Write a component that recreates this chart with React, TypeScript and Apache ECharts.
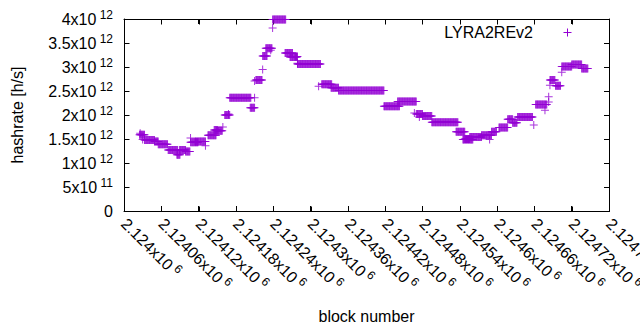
import React, { useEffect, useRef } from 'react';
import * as echarts from 'echarts';

// Block-number offsets from 2124000 where each constant hashrate run starts / ends
const BASE_BLOCK = 2124000;
const runStart = [26, 25, 30, 33, 49, 55, 71, 85, 89, 99, 107, 107, 114, 131, 135, 145, 149, 159, 162, 168,
  170, 210, 203, 212, 210, 223, 223, 228, 236, 239, 239, 259, 267, 279, 275, 279, 313, 318, 333, 345,
  418, 440, 467, 470, 475, 480, 495, 534, 548, 545, 556, 575, 588, 591, 603, 617, 625, 633, 659, 662,
  677, 683, 683, 685, 685, 694, 704, 704, 720, 736];
const runEnd = [26, 33, 30, 49, 55, 70, 86, 90, 99, 106, 107, 119, 131, 131, 148, 151, 158, 159, 170, 168,
  204, 210, 210, 222, 210, 223, 230, 238, 236, 239, 260, 271, 278, 279, 279, 316, 313, 334, 345, 418,
  443, 470, 467, 480, 475, 495, 537, 548, 556, 561, 575, 591, 588, 599, 617, 625, 632, 657, 659, 680,
  677, 683, 683, 693, 685, 702, 704, 720, 736, 746];
// hashrate of each run, in units of 1e12 h/s
const runValue = [1.62, 1.59, 1.49, 1.48, 1.45, 1.39, 1.27, 1.17, 1.27, 1.24, 1.52, 1.43, 1.45, 1.36, 1.58, 1.69, 1.67, 1.75, 2.0, 2.02,
  2.36, 2.36, 2.15, 2.73, 2.71, 2.95, 3.23, 3.39, 3.35, 3.81, 3.99, 3.29, 3.21, 3.08, 3.22, 3.06, 2.6, 2.64, 2.57, 2.51,
  2.18, 2.28, 2.04, 2.02, 1.96, 1.98, 1.85, 1.65, 1.5, 1.49, 1.54, 1.58, 1.49, 1.65, 1.74, 1.91, 1.84, 1.96, 1.79, 2.22,
  2.1, 2.38, 2.27, 2.73, 2.62, 2.61, 2.89, 3.01, 3.05, 2.97];

const X_MIN = 2124000;
const X_MAX = 2124780;
const X_STEP = 60;
const Y_MAX = 4e12;
const Y_STEP = 5e11;
const xTickMantissas = ['2.124', '2.12406', '2.12412', '2.12418', '2.12424', '2.1243', '2.12436', '2.12442',
  '2.12448', '2.12454', '2.1246', '2.12466', '2.12472', '2.12478'];
const yTickMantissas = ['0', '5', '1', '1.5', '2', '2.5', '3', '3.5', '4'];
const yTickExponents = ['', '11', '12', '12', '12', '12', '12', '12', '12'];

const FONT = 'Liberation Sans, Arial, sans-serif';
const PURPLE = '#9400D3';
const PLUS = 'path://M3.5 0H4.5V3.5H8V4.5H4.5V8H3.5V4.5H0V3.5H3.5Z';
const TICK = 5;

function buildData(): number[][] {
  const out: number[][] = [];
  for (let i = 0; i < runStart.length; i++) {
    for (let b = runStart[i]; b <= runEnd[i]; b++) {
      out.push([BASE_BLOCK + b, runValue[i] * 1e12]);
    }
  }
  return out;
}

const rich = {
  m: { fontSize: 16, lineHeight: 21, fontFamily: FONT, color: '#000' },
  s: { fontSize: 12, lineHeight: 12, verticalAlign: 'top', fontFamily: FONT, color: '#000' },
};

function axisLine() {
  return { show: true, onZero: false, lineStyle: { color: '#000', width: 1 } };
}
function axisTick() {
  return { show: true, inside: true, length: TICK, lineStyle: { color: '#000', width: 1 } };
}

export default function App() {
  const ref = useRef<HTMLDivElement>(null);
  useEffect(() => {
    document.body.style.margin = '0';
    const chart = echarts.init(ref.current as HTMLDivElement, null, { renderer: 'svg' });
    const xCommon = { type: 'value', min: X_MIN, max: X_MAX, interval: X_STEP, splitLine: { show: false } };
    const yCommon = { type: 'value', min: 0, max: Y_MAX, interval: Y_STEP, splitLine: { show: false } };
    const legendGraphics: any[] = [
      {
        type: 'text', x: 533, y: 32.5,
        style: {
          text: 'LYRA2REv2', fontFamily: FONT, fontSize: 16, fill: '#000',
          align: 'right', verticalAlign: 'middle', textAlign: 'right', textVerticalAlign: 'middle',
        },
      },
      {
        type: 'group', x: 567.5, y: 32.5,
        children: [
          { type: 'line', shape: { x1: -4, y1: 0, x2: 4, y2: 0 }, style: { stroke: PURPLE, lineWidth: 1 } },
          { type: 'line', shape: { x1: 0, y1: -4, x2: 0, y2: 4 }, style: { stroke: PURPLE, lineWidth: 1 } },
        ],
      },
    ];
    chart.setOption({
      animation: false,
      grid: { left: 124, right: 31, top: 19, bottom: 119, containLabel: false, outerBoundsMode: 'none' },
      xAxis: [
        {
          ...xCommon,
          position: 'bottom',
          axisLine: axisLine(), axisTick: axisTick(),
          axisLabel: {
            rotate: -45,
            margin: 10,
            fontFamily: FONT,
            fontSize: 16,
            color: '#000',
            rich,
            formatter: (v: number) => {
              const i = Math.round((v - X_MIN) / X_STEP);
              return `{m|${xTickMantissas[i]}x10}{s| 6}`;
            },
          },
          name: 'block number',
          nameLocation: 'middle',
          nameGap: 97,
          nameTextStyle: { fontFamily: FONT, fontSize: 16, color: '#000' },
        },
        { ...xCommon, position: 'top', axisLine: axisLine(), axisTick: axisTick(), axisLabel: { show: false } },
      ],
      yAxis: [
        {
          ...yCommon,
          position: 'left',
          axisLine: axisLine(), axisTick: axisTick(),
          axisLabel: {
            margin: 11,
            fontFamily: FONT,
            fontSize: 16,
            color: '#000',
            rich,
            formatter: (v: number) => {
              const i = Math.round(v / Y_STEP);
              if (!yTickExponents[i]) return `{m|${yTickMantissas[i]}}`;
              return `{m|${yTickMantissas[i]}x10}{s| ${yTickExponents[i]}}`;
            },
          },
          name: 'hashrate [h/s]',
          nameLocation: 'middle',
          nameGap: 99,
          nameTextStyle: { fontFamily: FONT, fontSize: 16, color: '#000' },
        },
        { ...yCommon, position: 'right', axisLine: axisLine(), axisTick: axisTick(), axisLabel: { show: false } },
      ],
      graphic: legendGraphics,
      series: [
        {
          type: 'scatter',
          xAxisIndex: 0,
          yAxisIndex: 0,
          data: buildData(),
          symbol: PLUS,
          symbolSize: 8,
          itemStyle: { color: PURPLE },
          silent: true,
        },
      ],
    });

    // Reinforce the gnuplot-style frame and mirrored inward ticks, placed through the chart's own scales
    const crisp = (v: number) => Math.round(v) + 0.5;
    const px = (v: number) => chart.convertToPixel({ xAxisIndex: 0 }, v) as number;
    const py = (v: number) => chart.convertToPixel({ yAxisIndex: 0 }, v) as number;
    const L = crisp(px(X_MIN)), R = crisp(px(X_MAX)), B = crisp(py(0)), T = crisp(py(Y_MAX));
    const black = { stroke: '#000', lineWidth: 1 };
    const frameChildren: any[] = [
      { type: 'line', shape: { x1: L, y1: T, x2: R, y2: T }, style: black },
      { type: 'line', shape: { x1: L, y1: B, x2: R, y2: B }, style: black },
      { type: 'line', shape: { x1: L, y1: T, x2: L, y2: B }, style: black },
      { type: 'line', shape: { x1: R, y1: T, x2: R, y2: B }, style: black },
    ];
    xTickMantissas.forEach((_, i) => {
      const x = crisp(px(X_MIN + i * X_STEP));
      frameChildren.push({ type: 'line', shape: { x1: x, y1: B, x2: x, y2: B - TICK }, style: black });
      frameChildren.push({ type: 'line', shape: { x1: x, y1: T, x2: x, y2: T + TICK }, style: black });
    });
    yTickMantissas.forEach((_, i) => {
      const y = crisp(py(i * Y_STEP));
      frameChildren.push({ type: 'line', shape: { x1: L, y1: y, x2: L + TICK, y2: y }, style: black });
      frameChildren.push({ type: 'line', shape: { x1: R, y1: y, x2: R - TICK, y2: y }, style: black });
    });
    chart.setOption({
      graphic: [...legendGraphics, { type: 'group', x: 0, y: 0, silent: true, children: frameChildren }],
    });
    return () => chart.dispose();
  }, []);
  return <div ref={ref} style={{ width: 640, height: 330 }} />;
}
